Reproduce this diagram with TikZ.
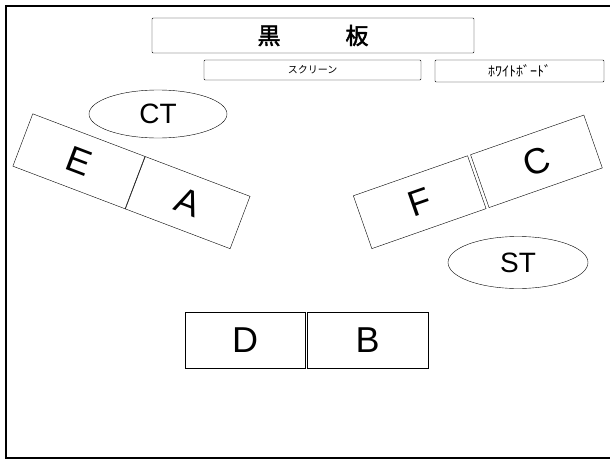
\documentclass[tikz,border=0pt]{standalone}
\usepackage{fontspec}
\setmainfont{Liberation Sans}
\newfontfamily\jpfont{Noto Sans CJK JP}
\newfontfamily\jpboldfont[FakeBold=2]{Noto Sans CJK JP}
\usetikzlibrary{shapes.geometric}

\begin{document}
\begin{tikzpicture}[x=1pt,y=-1pt,
  seat/.style={draw,minimum height=56pt,inner sep=0pt,font=\fontsize{36}{36}\selectfont},
  teacher/.style={draw,ellipse,inner sep=0pt,font=\fontsize{28}{28}\selectfont},
  front/.style={draw,rounded corners=1pt,inner sep=0pt}]
\useasboundingbox (0,0) rectangle (610,463);
% room
\draw[line width=2pt] (610,6) -- (6,6) -- (6,458) -- (610,458);
% front of the room
\node[front,minimum width=322pt,minimum height=35pt,font=\jpboldfont\fontsize{23}{23}\selectfont] (board) at (313,35.5) {黒\hspace{65pt}板};
\node[front,minimum width=217pt,minimum height=20pt,font=\jpfont\fontsize{10}{10}\selectfont] (screen) at (312.5,70) {スクリーン};
\node[front,minimum width=169pt,minimum height=22pt,font=\jpfont\fontsize{14}{14}\selectfont] (wboard) at (519.5,71) {ﾎﾜｲﾄﾎﾞｰﾄﾞ};
% teachers
\node[teacher,minimum width=138pt,minimum height=48pt] (CT) at (158,114) {CT};
\node[teacher,minimum width=140pt,minimum height=52pt] (ST) at (518,262.5) {ST};
% groups
\node[seat,minimum width=120pt,rotate=-20.8] (E) at (78.9,161.3) {E};
\node[seat,minimum width=112pt,rotate=-20.8,anchor=west] (A) at (E.east) {A};
\node[seat,minimum width=121pt,rotate=19.3] (F) at (419.7,202.2) {F};
\node[seat,minimum width=120pt,rotate=19.3,anchor=west,outer sep=3pt] (C) at (F.east) {C};
\node[seat,minimum width=120pt] (D) at (245,340) {D};
\node[seat,minimum width=121pt,anchor=west,outer sep=2pt] (B) at (D.east) {B};
\end{tikzpicture}
\end{document}
